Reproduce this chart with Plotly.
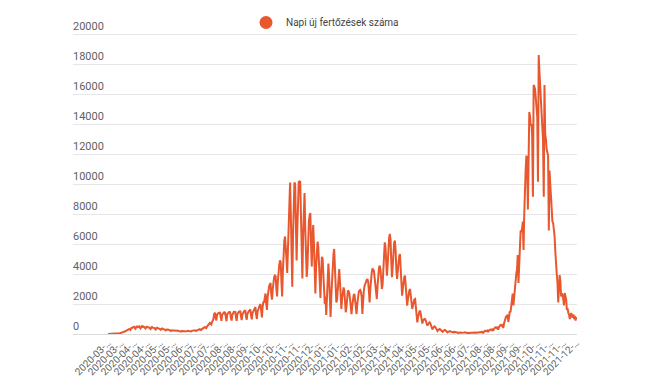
import pandas as pd
import plotly.graph_objects as go

START_DATE = "2020-03-01"
SERIES_NAME = "Napi új fertőzések száma"
LINE_COLOR = "#e8572d"

# Daily new infections, read week by week off the reference chart
VALUES = [
    0, 0, 0, 2, 1, 2, 3,
    4, 3, 6, 9, 7, 13, 20,
    30, 35, 50, 58, 70, 85, 100,
    130, 150, 160, 180, 210, 250, 280,
    300, 330, 310, 270, 380, 420, 450,
    440, 480, 400, 350, 470, 500, 460,
    480, 510, 420, 370, 490, 530, 470,
    500, 460, 400, 360, 470, 490, 450,
    460, 440, 380, 330, 430, 460, 420,
    430, 410, 350, 300, 400, 420, 380,
    380, 360, 320, 280, 350, 370, 330,
    330, 310, 270, 240, 300, 310, 280,
    280, 260, 230, 200, 250, 270, 240,
    240, 230, 200, 180, 220, 230, 210,
    210, 200, 180, 160, 200, 210, 190,
    200, 190, 170, 160, 190, 210, 200,
    210, 220, 190, 170, 210, 230, 220,
    240, 250, 220, 200, 250, 280, 270,
    300, 320, 280, 260, 330, 380, 400,
    430, 460, 420, 390, 500, 580, 620,
    680, 740, 680, 640, 800, 920, 1000,
    1350, 1420, 1100, 900, 1300, 1380, 1400,
    1400, 1450, 1120, 880, 1280, 1360, 1420,
    1380, 1480, 1150, 850, 1300, 1420, 1450,
    1420, 1500, 1100, 900, 1260, 1400, 1470,
    1450, 1520, 1160, 870, 1320, 1430, 1480,
    1480, 1550, 1200, 920, 1300, 1460, 1500,
    1500, 1600, 1180, 950, 1350, 1480, 1530,
    1550, 1650, 1250, 980, 1400, 1520, 1580,
    1650, 1800, 1300, 1000, 1500, 1700, 1750,
    1900, 2000, 1500, 1100, 1800, 2150, 2100,
    2500, 2700, 2000, 1600, 2500, 3000, 3200,
    3300, 3400, 2600, 2300, 3000, 3600, 3800,
    3900, 3850, 3000, 2500, 3500, 4300, 4600,
    4900, 4800, 3500, 2500, 4200, 5800, 6200,
    6500, 6000, 5000, 4070, 6000, 8000, 9800,
    10100, 8000, 5000, 3150, 6500, 9000, 10100,
    10000, 8000, 4900, 7000, 9500, 10200, 10100,
    10200, 8000, 5000, 3700, 6500, 9000, 9400,
    7000, 5000, 3800, 4500, 6500, 7500, 7900,
    8070, 6000, 4500, 6500, 7270, 6000, 4000,
    2700, 4500, 6000, 6150, 5800, 4500, 3000,
    2400, 4000, 5150, 5000, 4300, 3000, 2000,
    2500, 1270, 2800, 4200, 4700, 3800, 2500,
    1130, 2500, 3800, 4600, 5300, 5670, 4500,
    3300, 2100, 2300, 3300, 4000, 4330, 3500,
    2500, 1670, 2400, 3000, 3100, 2900, 2400,
    1450, 1800, 2500, 2900, 2850, 2700, 2300,
    1800, 1330, 1900, 2400, 2600, 2670, 2300,
    1800, 1330, 2000, 2600, 2800, 2900, 2930,
    2800, 2500, 1330, 2300, 2900, 3200, 3400,
    3500, 3600, 3670, 3500, 2900, 2110, 3000,
    3700, 4100, 4330, 4300, 4200, 3800, 3200,
    2600, 2330, 3200, 4000, 4400, 4560, 4300,
    3700, 3000, 3300, 4500, 5500, 6110, 5800,
    4800, 3890, 4600, 5800, 6400, 6670, 6300,
    4800, 3780, 4500, 5600, 6100, 6220, 5600,
    4300, 3670, 4200, 4900, 5200, 5330, 4600,
    3300, 2560, 3000, 3600, 3800, 3890, 3200,
    2400, 1890, 2300, 2800, 2900, 3000, 2500,
    2000, 1670, 1900, 2200, 2300, 2330, 1800,
    1200, 780, 1100, 1400, 1500, 1560, 1300,
    1000, 700, 900, 1000, 1000, 980, 850,
    700, 560, 650, 750, 780, 720, 600,
    450, 300, 420, 500, 510, 460, 380,
    280, 200, 260, 320, 330, 300, 260,
    250, 150, 200, 250, 270, 240, 210,
    190, 110, 150, 180, 190, 170, 150,
    140, 80, 110, 140, 150, 130, 120,
    110, 60, 90, 110, 120, 100, 90,
    90, 50, 80, 100, 110, 90, 80,
    80, 50, 70, 90, 100, 90, 80,
    90, 50, 80, 100, 110, 100, 90,
    100, 60, 90, 120, 130, 120, 110,
    140, 80, 150, 200, 220, 210, 190,
    230, 130, 220, 280, 300, 290, 260,
    350, 200, 330, 420, 450, 440, 400,
    480, 280, 450, 560, 600, 580, 540,
    650, 400, 700, 900, 1100, 1200, 1150,
    1300, 800, 1200, 1500, 1450, 1800, 2300,
    2700, 1900, 2600, 3300, 3900, 4000, 4300,
    5270, 3400, 4500, 6000, 6900, 6800, 7000,
    7500, 5600, 8000, 10800, 11000, 11900, 11500,
    8300, 12000, 14800, 14500, 13900, 14000, 13150,
    9150, 16600, 16500, 16300, 15800, 15150, 14500,
    10150, 18600, 17500, 16500, 16000, 14500, 13500,
    12900, 9150, 16600, 13300, 13000, 12300, 11900,
    11900, 6900, 10900, 10000, 9000, 8200, 7500,
    7400, 7000, 6500, 5500, 4300, 4000, 3400,
    2100, 3000, 3930, 3500, 2500, 2700, 2600,
    2300, 1900, 2730, 2500, 2300, 1600, 1700,
    1400, 1300, 1000, 1300, 1400, 1200, 1100,
    1300, 1000, 1200, 900, 1100, 1000,
]

DATES = pd.date_range(START_DATE, periods=len(VALUES), freq="D").strftime("%Y-%m-%d").tolist()
TICK_STEP = 18
TICK_VALS = DATES[::TICK_STEP]
TICK_LABELS = [d[:8] + "\u2026" for d in TICK_VALS]
Y_TICKS = [0, 2000, 4000, 6000, 8000, 10000, 12000, 14000, 16000, 18000, 20000]
Y_LABELS = [str(v) for v in Y_TICKS]

fig = go.Figure()
fig.add_trace(go.Scatter(
    x=DATES, y=VALUES, mode="lines",
    line=dict(color=LINE_COLOR, width=2),
    showlegend=False, hoverinfo="x+y",
))
fig.add_trace(go.Scatter(
    x=[None], y=[None], mode="markers",
    marker=dict(color=LINE_COLOR, size=13, symbol="circle"),
    name=SERIES_NAME,
))

fig.update_layout(
    width=650, height=377,
    margin=dict(l=65, r=81, t=0, b=51),
    paper_bgcolor="white", plot_bgcolor="white",
    font=dict(family="Roboto, Arial, sans-serif", size=10, color="#5f5f5f"),
    legend=dict(
        orientation="h", x=0.5, xanchor="center", y=1.0, yanchor="top",
        font=dict(size=10, color="#444444"), itemsizing="trace",
        bgcolor="rgba(0,0,0,0)",
    ),
    xaxis=dict(
        type="category",
        range=[-48.4, len(VALUES) - 1],
        tickmode="array", tickvals=TICK_VALS, ticktext=TICK_LABELS,
        tickangle=-45, tickfont=dict(size=10, color="#5f5f5f"),
        showgrid=False, showline=False, zeroline=False, ticks="",
        automargin=False,
    ),
    yaxis=dict(
        range=[0, 21733], tickmode="array", tickvals=Y_TICKS, ticktext=Y_LABELS,
        ticklabelposition="inside top", ticklabelstandoff=-3,
        tickfont=dict(size=11, color="#5f5f5f"),
        showgrid=True, gridcolor="#e6e6e6", gridwidth=1,
        zeroline=True, zerolinecolor="#dcdcdc", zerolinewidth=1,
        showline=False, ticks="", automargin=False,
    ),
)

fig.write_html("out.html")
